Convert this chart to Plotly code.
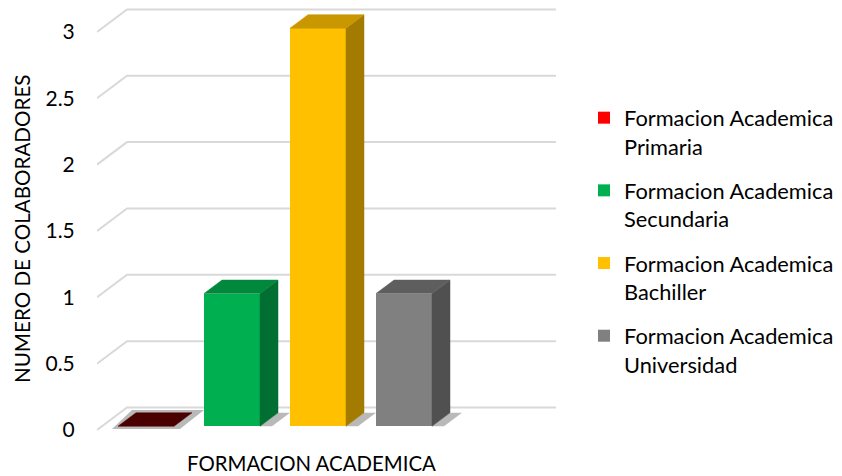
import plotly.graph_objects as go

# ---- data ----
series = ["Formacion Academica<br>Primaria", "Formacion Academica<br>Secundaria",
          "Formacion Academica<br>Bachiller", "Formacion Academica<br>Universidad"]
values = [0, 1, 3, 1]
positions = [1, 2, 3, 4]
y_ticks = [0, 0.5, 1, 1.5, 2, 2.5, 3]
y_tick_labels = ["0", "0.5", "1", "1.5", "2", "2.5", "3"]
axis_x_title = "FORMACION ACADEMICA"
axis_y_title = "NUMERO DE COLABORADORES"

front_colors = ["#FF0000", "#00B050", "#FFC000", "#808080"]
top_colors = ["#4A0000", "#00893D", "#C99700", "#5E5E5E"]
side_colors = ["#7A0000", "#006F31", "#A27B00", "#505050"]

# ---- geometry (styling constants) ----
OFF = 8              # page body margin of the html page
FW, FH = 842 - OFF, 476 - OFF
PL, PR = 97 - OFF, 556 - OFF      # plot area left/right (figure px)
PT, PB = 0, 440 - OFF             # plot area top/bottom (figure px)
PW, PH = PR - PL, PB - PT
PX_X = 86.0          # pixels per x unit
PX_Y = 132.7         # pixels per value unit
Y0 = 430 - OFF       # figure px of value 0 on the front plane
DX = 30 / PX_X       # full floor depth, x offset
DY = 22.5 / PX_Y     # full floor depth, y offset
T0, T1 = 5 / 30, 23 / 30   # bar front / back depth fraction
BW = 56 / PX_X       # bar width
SH = 12 / PX_X       # shadow spread
X_MIN = 2 - (227 - 97) / PX_X
X_MAX = X_MIN + PW / PX_X
Y_MIN = -(PB - Y0) / PX_Y
Y_MAX = (Y0 - PT) / PX_Y


def px(wx):   # window x -> paper x
    return (wx - OFF - PL) / PW


def py(wy):   # window y -> paper y
    return (PB - (wy - OFF)) / PH


FONT = "Lato, 'Open Sans', sans-serif"
fig = go.Figure()

# gridlines (3D walls) as shapes below the traces
shapes = []
for v in y_ticks:
    shapes.append(dict(type="path", xref="x", yref="y", layer="below",
                       path=f"M{X_MIN},{v} L{X_MIN + DX},{v + DY} L{X_MAX},{v + DY}",
                       line=dict(color="#D9D9D9", width=2)))

# shadows
for p, v in zip(positions, values):
    xr = p + BW / 2
    xl = p - BW / 2
    if v == 0:
        xs = [xl + DX * T0 - SH / 2, xr + DX * T0 + SH / 2, xr + DX * T1 + SH, xl + DX * T1 - SH / 3, xl + DX * T0 - SH / 2]
        ys = [DY * T0 - 0.02, DY * T0 - 0.02, DY * T1 + 0.02, DY * T1 + 0.02, DY * T0 - 0.02]
    else:
        xs = [xr + DX * T0, xr + DX * T1, xr + DX * T1 + SH, xr + DX * T0 + SH, xr + DX * T0]
        ys = [DY * T0, DY * T1, DY * T1, DY * T0, DY * T0]
    fig.add_trace(go.Scatter(x=xs, y=ys, mode="lines", fill="toself",
                             fillcolor="rgba(80,80,80,0.4)", line=dict(width=0),
                             showlegend=False, hoverinfo="skip"))

# side and top faces
for p, v, tc, sc in zip(positions, values, top_colors, side_colors):
    xl = p - BW / 2
    xr = p + BW / 2
    if v > 0:
        fig.add_trace(go.Scatter(
            x=[xr + DX * T0, xr + DX * T1, xr + DX * T1, xr + DX * T0, xr + DX * T0],
            y=[DY * T0, DY * T1, v + DY * T1, v + DY * T0, DY * T0],
            mode="lines", fill="toself", fillcolor=sc, line=dict(width=0.5, color=sc),
            showlegend=False, hoverinfo="skip"))
    fig.add_trace(go.Scatter(
        x=[xl + DX * T0, xr + DX * T0, xr + DX * T1, xl + DX * T1, xl + DX * T0],
        y=[v + DY * T0, v + DY * T0, v + DY * T1, v + DY * T1, v + DY * T0],
        mode="lines", fill="toself", fillcolor=tc, line=dict(width=0.5, color=tc),
        showlegend=False, hoverinfo="skip"))

# front faces (legend entries)
for i, (name, p, v, fc) in enumerate(zip(series, positions, values, front_colors)):
    fig.add_trace(go.Bar(
        x=[p + DX * T0], y=[v], base=[DY * T0], width=[BW], name=name,
        marker=dict(color=fc, line=dict(width=0)), legendgroup=f"g{i}",
        hovertemplate=f"{name.replace('<br>', ' ')}: %{{y}}<extra></extra>"))

fig.update_layout(
    width=FW, height=FH,
    margin=dict(l=PL, r=FW - PR, t=PT, b=FH - PB, autoexpand=False),
    paper_bgcolor="white", plot_bgcolor="white",
    font=dict(family=FONT, size=20, color="#000000"),
    showlegend=True,
    legend=dict(x=px(584), y=py(97), xanchor="left", yanchor="top",
                font=dict(family=FONT, size=21.8, color="#000000"),
                valign="top", tracegroupgap=13, traceorder="grouped",
                bgcolor="rgba(0,0,0,0)"),
    xaxis=dict(range=[X_MIN, X_MAX], showgrid=False, zeroline=False, showticklabels=False,
               showline=False, fixedrange=True),
    yaxis=dict(range=[Y_MIN, Y_MAX], tickvals=y_ticks, ticktext=y_tick_labels,
               showgrid=False, zeroline=False, showline=False,
               ticks="outside", ticklen=17, tickcolor="rgba(0,0,0,0)",
               tickfont=dict(family=FONT, size=21, color="#000000")),
    shapes=shapes,
    annotations=[
        dict(text=axis_y_title, textangle=-90, xref="paper", yref="paper",
             x=px(22), y=py(229), xanchor="center", yanchor="middle",
             showarrow=False, font=dict(family=FONT, size=20.6, color="#000000")),
        dict(text=axis_x_title, xref="paper", yref="paper",
             x=px(311), y=py(463), xanchor="center", yanchor="middle",
             showarrow=False, font=dict(family=FONT, size=20.4, color="#000000")),
    ],
    bargap=0,
)

fig.write_html("out.html")
